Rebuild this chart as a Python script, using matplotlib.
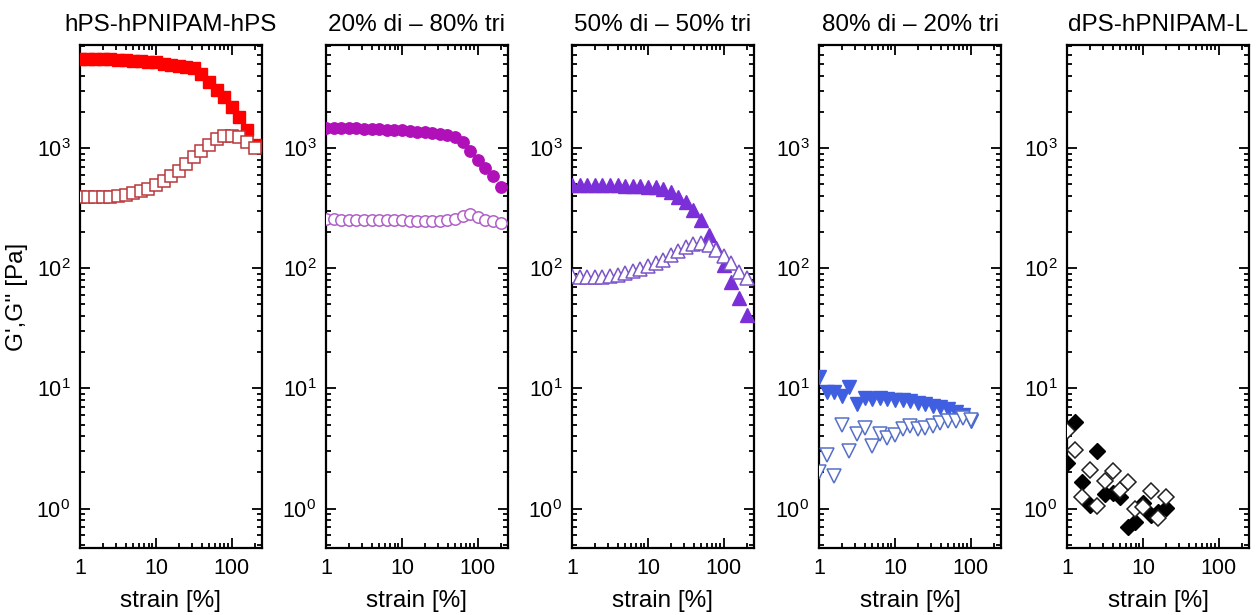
import numpy as np
import matplotlib.pyplot as plt
from matplotlib.ticker import LogLocator, FixedLocator, FixedFormatter, NullFormatter

plt.rcParams['font.family'] = ['Liberation Sans', 'DejaVu Sans']
plt.rcParams['mathtext.fontset'] = 'custom'
plt.rcParams['mathtext.rm'] = 'Liberation Sans'
plt.rcParams['mathtext.it'] = 'Liberation Sans:italic'

# --- data (strain sweep, 10 points per decade) ---
strain = [1, 1.26, 1.58, 2, 2.51, 3.16, 3.98, 5.01, 6.31, 7.94,
          10, 12.6, 15.8, 20, 25.1, 31.6, 39.8, 50.1, 63.1, 79.4,
          100, 126, 158, 200]

titles = ["hPS-hPNIPAM-hPS", "20% di \u2013 80% tri", "50% di \u2013 50% tri",
          "80% di \u2013 20% tri", "dPS-hPNIPAM-L"]

# hPS-hPNIPAM-hPS
g1_store = [5500, 5500, 5500, 5480, 5470, 5450, 5400, 5350, 5300, 5200,
            5150, 5050, 4950, 4850, 4750, 4600, 4100, 3550, 3050, 2650,
            2200, 1800, 1400, 1060]
g1_loss = [390, 390, 390, 392, 395, 400, 410, 425, 440, 460,
           490, 530, 580, 650, 740, 840, 950, 1070, 1180, 1260,
           1270, 1230, 1120, 1000]

# 20% di - 80% tri
g2_store = [1480, 1475, 1470, 1465, 1460, 1450, 1440, 1430, 1420, 1410,
            1400, 1385, 1370, 1350, 1330, 1310, 1280, 1240, 1130, 940,
            800, 680, 580, 470]
g2_loss = [258, 255, 254, 253, 252, 252, 251, 251, 250, 250,
           250, 249, 248, 248, 247, 247, 250, 258, 270, 285,
           268, 252, 246, 240]

# 50% di - 50% tri
g3_store = [490, 490, 490, 490, 490, 490, 488, 487, 485, 482,
            478, 470, 455, 432, 395, 355, 305, 250, 190, 147,
            106, 77, 56, 41]
g3_loss = [86, 85, 84, 84, 85, 86, 88, 91, 94, 98,
           104, 110, 118, 128, 140, 150, 158, 163, 155, 141,
           126, 110, 93, 83]

# 80% di - 20% tri (up to 100 %)
g4_store = [12.4, 9.3, 9.3, 8.6, 10.2, 7.4, 8.4, 8.1, 8.4, 8.1,
            8.0, 8.0, 7.9, 7.6, 7.4, 7.2, 7.0, 6.7, 6.4, 6.0, 5.4]
g4_loss = [2.0, 2.8, 1.85, 5.0, 3.0, 4.2, 4.7, 3.3, 4.2, 3.9,
           4.1, 4.6, 4.9, 4.6, 4.7, 4.9, 5.2, 5.4, 5.4, 5.7, 5.5]

# dPS-hPNIPAM-L (up to 20 %)
g5_store = [2.4, 5.3, 1.68, 1.08, 3.0, 1.31, 1.36, 1.26, 0.70, 0.78,
            1.12, 0.89, 0.94, 1.02]
g5_loss = [4.4, 3.1, 1.26, 2.1, 1.06, 1.71, 2.07, 1.44, 1.68, 0.99,
           1.04, 1.39, 0.84, 1.26]

stores = [g1_store, g2_store, g3_store, g4_store, g5_store]
losses = [g1_loss, g2_loss, g3_loss, g4_loss, g5_loss]
markers = ['s', 'o', '^', 'v', 'D']
fill_colors = ['#ff0000', '#b010b8', '#7b2fd8', '#3f5fe0', '#000000']
edge_colors = ['#b8383c', '#b060c8', '#7a55c8', '#5570c8', '#202020']
msizes = [8.8, 8.2, 9.5, 9.5, 8.3]

fig = plt.figure(figsize=(12.58, 6.15), dpi=100)

lefts = [80, 326, 572, 819, 1067]
for i in range(5):
    ax = fig.add_axes([lefts[i] / 1258, 67 / 615, 182 / 1258, 503 / 615])
    n = len(stores[i])
    # storage modulus, filled
    ax.plot(strain[:n], stores[i], linestyle='none', marker=markers[i],
            ms=msizes[i], mfc=fill_colors[i], mec=fill_colors[i], zorder=3)
    # loss modulus, open
    ax.plot(strain[:n], losses[i], linestyle='none', marker=markers[i],
            ms=msizes[i], mfc='white', mec=edge_colors[i], mew=1.1, zorder=4)

    ax.set_xscale('log')
    ax.set_yscale('log')
    ax.set_xlim(1, 250)
    ax.set_ylim(0.47, 7200)

    ax.xaxis.set_major_locator(FixedLocator([1, 10, 100]))
    ax.xaxis.set_major_formatter(FixedFormatter(['1', '10', '100']))
    ax.xaxis.set_minor_locator(LogLocator(base=10, subs=np.arange(2, 10)))
    ax.xaxis.set_minor_formatter(NullFormatter())
    ax.yaxis.set_major_locator(FixedLocator([1, 10, 100, 1000]))
    ax.yaxis.set_major_formatter(FixedFormatter(
        [r'$\mathregular{10^0}$', r'$\mathregular{10^1}$',
         r'$\mathregular{10^2}$', r'$\mathregular{10^3}$']))
    ax.yaxis.set_minor_locator(LogLocator(base=10, subs=np.arange(2, 10)))
    ax.yaxis.set_minor_formatter(NullFormatter())

    ax.tick_params(which='both', direction='in', top=True, right=True,
                   width=1.3, labelsize=15.5, colors='black')
    ax.tick_params(which='major', length=7.5, pad=7)
    ax.tick_params(which='minor', length=3.5)
    for sp in ax.spines.values():
        sp.set_linewidth(1.6)

    ax.set_xlabel('strain [%]', fontsize=17.5, labelpad=8)
    ax.set_title(titles[i], fontsize=17.5, pad=10)
    if i == 0:
        ax.set_ylabel("G',G'' [Pa]", fontsize=17.5, labelpad=6)

fig.savefig('out.png', dpi=100)
